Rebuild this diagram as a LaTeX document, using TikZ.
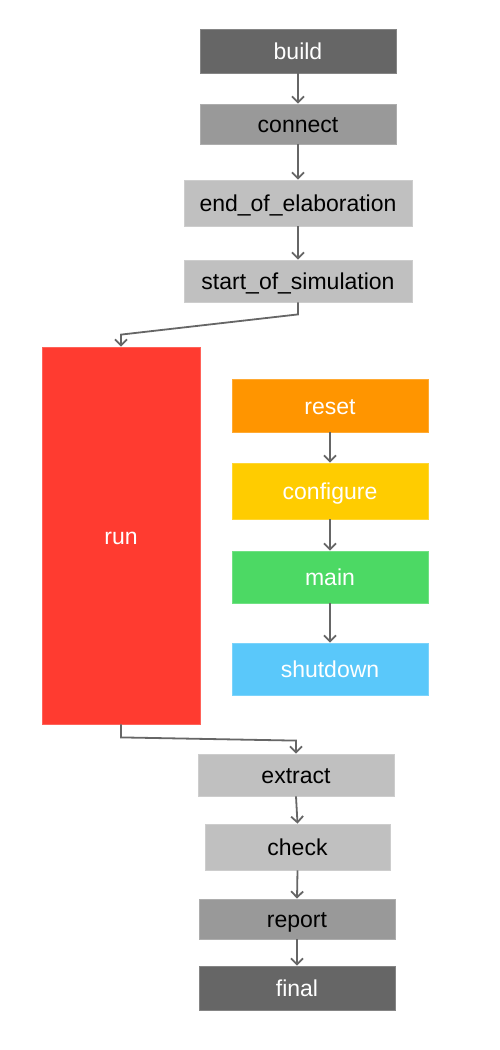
\documentclass[tikz,border=0pt]{standalone}
\usepackage{fontspec}
\setmainfont{Liberation Sans}
\usetikzlibrary{arrows.meta,calc}
\definecolor{cdark}{HTML}{666666}
\definecolor{cmid}{HTML}{999999}
\definecolor{clight}{HTML}{C0C0C0}
\definecolor{cred}{HTML}{FF3B30}
\definecolor{corange}{HTML}{FF9500}
\definecolor{cyellow}{HTML}{FFCC00}
\definecolor{cgreen}{HTML}{4CD964}
\definecolor{cblue}{HTML}{5AC8FA}
\definecolor{cline}{HTML}{666666}
\tikzset{
  phase/.style={fill=#1, draw=#1!80!white, line width=0.8pt, inner sep=0pt,
    text height=21pt, text depth=4pt,
    font=\fontsize{23}{27}\selectfont},
  wtext/.style={text=white},
  btext/.style={text=black},
  conn/.style={draw=cline, line width=1.8pt, -{Straight Barb[length=6pt,width=12pt]}}
}
\begin{document}
\begin{tikzpicture}[x=1pt,y=-1pt]
\useasboundingbox (0,0) rectangle (500,1050);
\node[phase=cdark, wtext, minimum width=196, minimum height=44] (build) at (298,51) {build};
\node[phase=cmid, btext, minimum width=196, minimum height=40] (connect) at (298,124) {connect};
\node[phase=clight, btext, minimum width=228, minimum height=46] (eoe) at (298,203) {end\_of\_elaboration};
\node[phase=clight, btext, minimum width=228, minimum height=42] (sos) at (298,281) {start\_of\_simulation};
\node[phase=cred, wtext, minimum width=158, minimum height=377] (run) at (121,535.5) {run};
\node[phase=corange, wtext, minimum width=196, minimum height=53] (reset) at (330,405.5) {reset};
\node[phase=cyellow, wtext, minimum width=196, minimum height=56] (configure) at (330,491) {configure};
\node[phase=cgreen, wtext, minimum width=196, minimum height=52] (main) at (330,577) {main};
\node[phase=cblue, wtext, minimum width=196, minimum height=52] (shutdown) at (330,669) {shutdown};
\node[phase=clight, btext, minimum width=196, minimum height=42] (extract) at (296,775) {extract};
\node[phase=clight, btext, minimum width=185, minimum height=46] (check) at (297.5,847) {check};
\node[phase=cmid, btext, minimum width=196, minimum height=40] (report) at (297,919) {report};
\node[phase=cdark, wtext, minimum width=196, minimum height=44] (final) at (297,988) {final};

\draw[conn] (build.south) -- (connect.north);
\draw[conn] (connect.south) -- (eoe.north);
\draw[conn] (eoe.south) -- (sos.north);
\draw[conn] (sos.south) -- ++(0,12) -- ($(run.north)+(0,-12)$) -- (run.north);
\draw[conn] (reset.south) -- (configure.north);
\draw[conn] (configure.south) -- (main.north);
\draw[conn] (main.south) -- (shutdown.north);
\draw[conn] (run.south) -- ++(0,13) -- ($(extract.north)+(0,-13)$) -- (extract.north);
\draw[conn] (extract.south) -- (check.north);
\draw[conn] (check.south) -- (report.north);
\draw[conn] (report.south) -- (final.north);
\end{tikzpicture}
\end{document}
